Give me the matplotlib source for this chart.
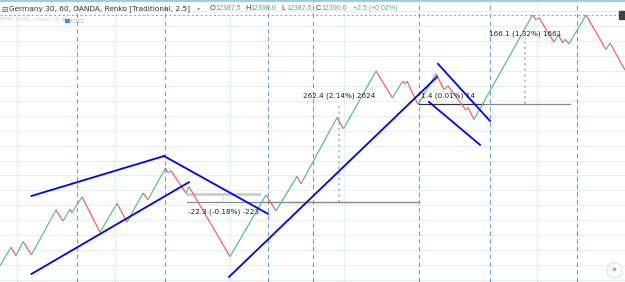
import matplotlib.pyplot as plt
from matplotlib.collections import LineCollection
from matplotlib.patches import Rectangle

# Renko pivots (bar position, price)
bars = [0, 11, 16, 23, 31.5, 56, 63, 70, 72, 82, 100, 117, 127, 143, 148, 165.5, 168, 171,
        186, 189, 230, 266, 276, 297, 301, 337, 343.5, 376, 392.5, 402.5, 405, 407, 418,
        436, 444, 448, 466, 468, 474, 532.5, 536, 539, 554, 558, 563, 565, 569, 586, 606,
        610, 625]
prices = [11717.5, 11767.5, 11745, 11782.5, 11747.5, 11867.5, 11837.5, 11870, 11860,
          11902.5, 11807.5, 11885, 11835, 11912.5, 11895, 11980, 11967.5, 11972.5, 11912.5,
          11930, 11742.5, 11907.5, 11865, 11957.5, 11937.5, 12115, 12085, 12240, 12167.5,
          12212.5, 12205, 12212.5, 12150, 12232.5, 12190, 12200, 12135, 12142.5, 12110,
          12390, 12377.5, 12382.5, 12317.5, 12337.5, 12315, 12325, 12312.5, 12390, 12297.5,
          12315, 12242.5]

# blue trend lines drawn on the chart: (x0, p0, x1, p1)
trend_lines = [
    (31.5, 11905, 164, 12012),
    (164, 12012, 268, 11857),
    (31.5, 11696, 189, 11942),
    (229, 11688, 437, 12224),
    (438, 12259, 490, 12106),
    (429, 12157, 480, 12042),
]

# price range measurements: (x_start, x_end, x_marker, p_from, p_to, label)
measures = [
    (187, 418, 223, 11911.3, 11889.0, "-22.3 (-0.18%) -223"),
    (259, 419, 339, 11889.0, 12151.4, "262.4 (2.14%) 2624"),
    (419, 484, 448, 12151.4, 12152.8, "1.4 (0.01%) 14"),
    (484, 570, 525, 12152.8, 12318.9, "166.1 (1.32%) 1661"),
]

session_breaks = [77, 165, 268, 313, 419, 490, 577]
grid_x = [17, 115, 230, 344, 537]
last_price = 12390.0
ohlc = [("O", "12387.5"), ("H", "12390.0"), ("L", "12387.5"), ("C", "12390.0")]
change = "+2.5 (+0.02%)"

UP = '#5cc08d'
DOWN = '#f2606c'
BLUE = '#0000ff'

fig = plt.figure(figsize=(6.25, 2.82), dpi=100)
ax = fig.add_axes([0, 0, 1, 1])
ax.set_xlim(0, 625)
ax.set_ylim(11674.4, 12430.2)
ax.axis('off')

# grid
for p in range(11680, 12440, 40):
    ax.axhline(p, color='#e8eef5', lw=0.8, zorder=0)
for x in grid_x:
    ax.axvline(x, color='#e8eef5', lw=0.8, zorder=0)
for x in session_breaks:
    ax.axvline(x, color='#6b9fd8', lw=0.8, ls=(0, (4, 3)), zorder=1)

# last price line
ax.axhline(last_price, color='#a8a8a8', lw=0.8, ls=(0, (2, 2)), zorder=1)

# renko line
segs = [[(bars[i], prices[i]), (bars[i + 1], prices[i + 1])] for i in range(len(bars) - 1)]
cols = [UP if prices[i + 1] > prices[i] else DOWN for i in range(len(bars) - 1)]
ax.add_collection(LineCollection(segs, colors=cols, linewidths=0.9, zorder=3))

# measurements
for i, (xa, xb, xm, pa, pb, label) in enumerate(measures):
    if i == 0:
        ax.plot([xa, xa + 72], [pa, pa], color='#cccccc', lw=2, zorder=2)
        ax.plot([xa, xb], [pb, pb], color='#8a8a8a', lw=0.9, zorder=2)
        ax.plot([xm, xm], [pb, pa], color='#bbbbbb', lw=1, ls=':', zorder=2)
        ty = pb - 27
    else:
        line_col = '#333333' if i == 2 else '#8a8a8a'
        ax.plot([xa, xb], [pa, pa], color=line_col, lw=0.9, zorder=2)
        if pb - pa > 10:
            ax.plot([xm, xm], [pa, pb], color='#bdbdbd', lw=1.5, ls=':', zorder=2)
        ty = max(pa, pb) + 21
    ax.text(xm if i != 0 else 224, ty, label, fontsize=5.2, color='#222222',
            ha='center', va='center', zorder=5)

# trend lines
for x0, p0, x1, p1 in trend_lines:
    ax.plot([x0, x1], [p0, p1], color=BLUE, lw=1.3, zorder=4)

# top border
ax.axhline(12430.2, color='#9cc8ee', lw=2, zorder=6)

# header
def px(x, y):
    return x / 625, 1 - y / 282

fig.text(*px(1, 9), "\u229f", fontsize=5.5, color='#555555', va='center')
fig.text(*px(9, 9), "Germany 30, 60, OANDA, Renko [Traditional, 2.5]", fontsize=5.3,
         color='#333333', va='center')
fig.text(*px(197, 9), "\u25be", fontsize=4.5, color='#999999', va='center')
xs = [210, 245.5, 281.5, 316]
for (k, v), x in zip(ohlc, xs):
    fig.text(*px(x, 9), k, fontsize=5.3, color='#333333', va='center',
             family='Liberation Sans')
    fig.text(*px(x + 5, 9), v, fontsize=5.0, color='#4cb07f', va='center',
             family='Liberation Sans')
fig.text(*px(353, 9), change, fontsize=5.0, color='#4cb07f', va='center',
         family='Liberation Sans')
fig.text(*px(0, 19.5), "EMA (100, close, 0) \u25be", fontsize=4.5, color='#cfcfcf', va='center')
ax.add_patch(Rectangle((64.5, 12371), 4.5, 9, color='#3d8fe0', zorder=6))
ax.add_patch(Rectangle((71, 12371), 4.5, 9, fill=False, ec='#cccccc', lw=0.6, zorder=6))
ax.add_patch(Rectangle((78, 12371), 4.5, 9, fill=False, ec='#cccccc', lw=0.6, zorder=6))

# right edge price tag and scroll button
ax.add_patch(Rectangle((619, 12378), 6, 24, color='#3b404b', zorder=6))
ax.plot([614], [11706], marker='o', ms=11, mfc='white', mec='#e0e0e0', mew=0.8, zorder=6)
ax.text(614, 11706, "\u00bb", fontsize=6, color='#555555', ha='center', va='center', zorder=7)

plt.savefig('out.png', dpi=100)
